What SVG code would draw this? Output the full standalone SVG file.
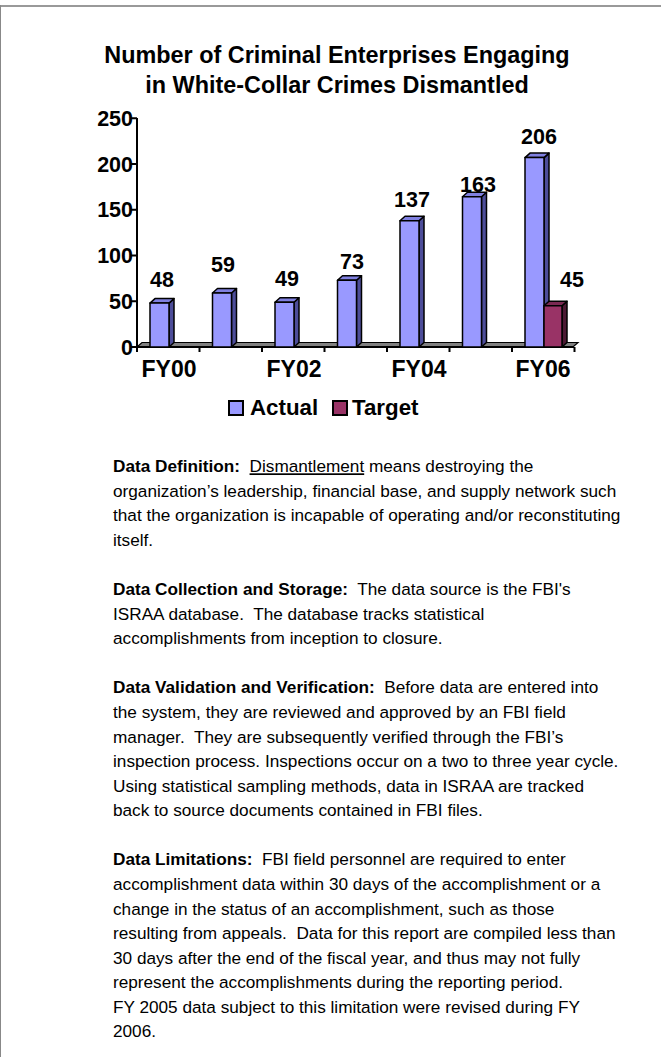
<svg xmlns="http://www.w3.org/2000/svg" width="661" height="1057" viewBox="0 0 661 1057">
<style>
.b{font-family:"Liberation Sans",Arial,sans-serif;font-weight:bold;fill:#000}
.t{font-family:"Liberation Sans",Arial,sans-serif;font-size:17.2px;fill:#000;white-space:pre}
.af{fill:#9999FF;stroke:#000;stroke-width:1.5;stroke-linejoin:round}
.as{fill:#4D4D99;stroke:#000;stroke-width:1.5;stroke-linejoin:round}
.at{fill:#8080E0;stroke:#000;stroke-width:1.5;stroke-linejoin:round}
.tf{fill:#993366;stroke:#000;stroke-width:1.5;stroke-linejoin:round}
.ts{fill:#4C1933;stroke:#000;stroke-width:1.5;stroke-linejoin:round}
.tt{fill:#7A2952;stroke:#000;stroke-width:1.5;stroke-linejoin:round}
.ax{stroke:#000;stroke-width:2;fill:none}
</style>
<rect width="661" height="1057" fill="#fff"/>
<g id="frame">
<line x1="0" y1="6" x2="661" y2="6" stroke="#999" stroke-width="2"/>
<line x1="0.5" y1="5" x2="0.5" y2="1057" stroke="#888" stroke-width="1"/>
</g>
<g id="title" class="b" font-size="23.4" text-anchor="middle">
<text x="337" y="63">Number of Criminal Enterprises Engaging</text>
<text x="337" y="93">in White-Collar Crimes Dismantled</text>
</g>
<g id="floor">
<polygon points="137,347 573,347 578,342.5 142,342.5" fill="#808080" stroke="#000" stroke-width="1.2"/>
</g>
<g id="axes">
<line class="ax" x1="137" y1="118" x2="137" y2="348"/>
<line class="ax" x1="137" y1="347" x2="574" y2="347"/>
<path class="ax" d="M131,347H137M131,301.3H137M131,255.5H137M131,209.8H137M131,164H137M131,118.3H137"/>
<path class="ax" d="M137,347V352M199.5,347V352M262,347V352M324.5,347V352M387,347V352M449.5,347V352M512,347V352M574.5,347V352"/>
</g>
<g id="ylabels" class="b" font-size="21.5" text-anchor="end">
<text x="133" y="354.5">0</text>
<text x="133" y="308.8">50</text>
<text x="133" y="263">100</text>
<text x="133" y="217.3">150</text>
<text x="133" y="171.5">200</text>
<text x="133" y="125.8">250</text>
</g>
<g id="bar-fy00"><polygon class="as" points="169,347 174,342.5 174,298.6 169,303.1"/><polygon class="at" points="150,303.1 169,303.1 174,298.6 155,298.6"/><rect class="af" x="150" y="303.1" width="19" height="43.9"/></g>
<g id="bar-fy01"><polygon class="as" points="231.5,347 236.5,342.5 236.5,288.5 231.5,293"/><polygon class="at" points="212.5,293 231.5,293 236.5,288.5 217.5,288.5"/><rect class="af" x="212.5" y="293" width="19" height="54"/></g>
<g id="bar-fy02"><polygon class="as" points="294,347 299,342.5 299,297.7 294,302.2"/><polygon class="at" points="275,302.2 294,302.2 299,297.7 280,297.7"/><rect class="af" x="275" y="302.2" width="19" height="44.8"/></g>
<g id="bar-fy03"><polygon class="as" points="356.5,347 361.5,342.5 361.5,275.7 356.5,280.2"/><polygon class="at" points="337.5,280.2 356.5,280.2 361.5,275.7 342.5,275.7"/><rect class="af" x="337.5" y="280.2" width="19" height="66.8"/></g>
<g id="bar-fy04"><polygon class="as" points="419,347 424,342.5 424,216.2 419,220.7"/><polygon class="at" points="400,220.7 419,220.7 424,216.2 405,216.2"/><rect class="af" x="400" y="220.7" width="19" height="126.3"/></g>
<g id="bar-fy05"><polygon class="as" points="481.5,347 486.5,342.5 486.5,192.3 481.5,196.8"/><polygon class="at" points="462.5,196.8 481.5,196.8 486.5,192.3 467.5,192.3"/><rect class="af" x="462.5" y="196.8" width="19" height="150.2"/></g>
<g id="bar-fy06"><polygon class="as" points="544,347 549,342.5 549,153.1 544,157.6"/><polygon class="at" points="525,157.6 544,157.6 549,153.1 530,153.1"/><rect class="af" x="525" y="157.6" width="19" height="189.4"/></g>
<g id="bar-fy06-target"><polygon class="ts" points="562,347 567,342.5 567,301.3 562,305.8"/><polygon class="tt" points="544,305.8 562,305.8 567,301.3 549,301.3"/><rect class="tf" x="544" y="305.8" width="18" height="41.2"/></g>
<g id="values" class="b" font-size="21.5" text-anchor="middle">
<text x="162" y="287">48</text>
<text x="223" y="272">59</text>
<text x="287" y="286">49</text>
<text x="352" y="269">73</text>
<text x="412" y="207">137</text>
<text x="478" y="192">163</text>
<text x="539" y="144">206</text>
<text x="572" y="287">45</text>
</g>
<g id="xlabels" class="b" font-size="23" text-anchor="middle">
<text x="169" y="377">FY00</text>
<text x="294" y="377">FY02</text>
<text x="419" y="377">FY04</text>
<text x="543" y="377">FY06</text>
</g>
<g id="legend" class="b" font-size="22.3">
<rect x="229" y="401" width="14" height="14" fill="#9999FF" stroke="#000" stroke-width="2"/>
<text x="250" y="415">Actual</text>
<rect x="333" y="401" width="14" height="14" fill="#993366" stroke="#000" stroke-width="2"/>
<text x="352" y="415">Target</text>
</g>
<g id="notes" class="t">
<text xml:space="preserve" x="113" y="472.3"><tspan font-weight="bold">Data Definition:</tspan>  <tspan text-decoration="underline">Dismantlement</tspan> means destroying the</text>
<text xml:space="preserve" x="113" y="496.9">organization’s leadership, financial base, and supply network such</text>
<text xml:space="preserve" x="113" y="521.4">that the organization is incapable of operating and/or reconstituting</text>
<text xml:space="preserve" x="113" y="546">itself.</text>
<text xml:space="preserve" x="113" y="595.2"><tspan font-weight="bold">Data Collection and Storage:</tspan>  The data source is the FBI's</text>
<text xml:space="preserve" x="113" y="619.7">ISRAA database.  The database tracks statistical</text>
<text xml:space="preserve" x="113" y="644.3">accomplishments from inception to closure.</text>
<text xml:space="preserve" x="113" y="693.4"><tspan font-weight="bold">Data Validation and Verification:</tspan>  Before data are entered into</text>
<text xml:space="preserve" x="113" y="718">the system, they are reviewed and approved by an FBI field</text>
<text xml:space="preserve" x="113" y="742.6">manager.  They are subsequently verified through the FBI’s</text>
<text xml:space="preserve" x="113" y="767.1">inspection process. Inspections occur on a two to three year cycle.</text>
<text xml:space="preserve" x="113" y="791.7">Using statistical sampling methods, data in ISRAA are tracked</text>
<text xml:space="preserve" x="113" y="816.3">back to source documents contained in FBI files.</text>
<text xml:space="preserve" x="113" y="865.4"><tspan font-weight="bold">Data Limitations:</tspan>  FBI field personnel are required to enter</text>
<text xml:space="preserve" x="113" y="890">accomplishment data within 30 days of the accomplishment or a</text>
<text xml:space="preserve" x="113" y="914.6">change in the status of an accomplishment, such as those</text>
<text xml:space="preserve" x="113" y="939.1">resulting from appeals.  Data for this report are compiled less than</text>
<text xml:space="preserve" x="113" y="963.7">30 days after the end of the fiscal year, and thus may not fully</text>
<text xml:space="preserve" x="113" y="988.2">represent the accomplishments during the reporting period.</text>
<text xml:space="preserve" x="113" y="1012.8">FY 2005 data subject to this limitation were revised during FY</text>
<text xml:space="preserve" x="113" y="1037.4">2006.</text>
</g>
</svg>
